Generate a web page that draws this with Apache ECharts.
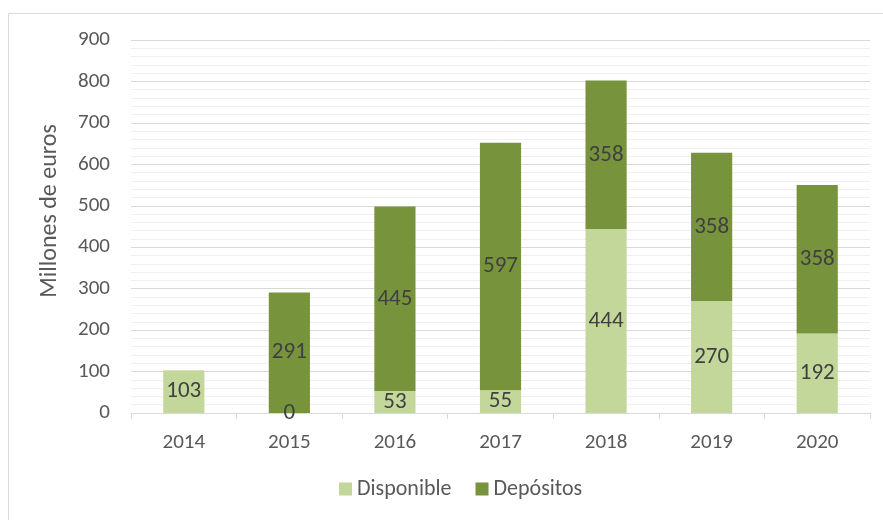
<!DOCTYPE html>
<html>
<head>
<meta charset="utf-8">
<script src="https://cdn.jsdelivr.net/npm/echarts@6/dist/echarts.min.js"></script>
<style>
  html, body { margin: 0; padding: 0; background: #fff; }
  #main { width: 883px; height: 520px; }
</style>
</head>
<body>
<div id="main"></div>
<script>
// datos del gráfico
const years = ['2014', '2015', '2016', '2017', '2018', '2019', '2020'];
const disponible = [103, 0, 53, 55, 444, 270, 192];
const depositos = [null, 291, 445, 597, 358, 358, 358];
const yTitle = 'Millones de euros';

const FONT = 'Carlito, "Liberation Sans", sans-serif';
const TXT = '#595959';

const chart = echarts.init(document.getElementById('main'));
chart.setOption({
  animation: false,
  textStyle: { fontFamily: FONT },
  graphic: [
    {
      type: 'rect',
      shape: { x: 8.5, y: 13.5, width: 890, height: 520 },
      style: { fill: 'none', stroke: '#D9D9D9', lineWidth: 1 },
      silent: true
    },
    {
      // título del eje Y
      type: 'text',
      x: 50,
      y: 211,
      rotation: Math.PI / 2,
      style: {
        text: yTitle,
        fill: TXT,
        fontSize: 24,
        fontFamily: FONT,
        align: 'center',
        verticalAlign: 'middle'
      },
      silent: true
    }
  ],
  grid: { left: 131, right: 13, top: 40, bottom: 107 },
  legend: {
    bottom: 15,
    left: 334,
    itemWidth: 13,
    itemHeight: 13,
    itemGap: 24,
    icon: 'rect',
    textStyle: { color: TXT, fontSize: 22, fontFamily: FONT },
    data: ['Disponible', 'Depósitos']
  },
  xAxis: {
    type: 'category',
    data: years,
    axisLine: { lineStyle: { color: '#D9D9D9', width: 1 } },
    axisTick: { show: true, length: 6, lineStyle: { color: '#D9D9D9' } },
    axisLabel: { color: TXT, fontSize: 21, margin: 19, fontFamily: FONT }
  },
  yAxis: {
    type: 'value',
    min: 0,
    max: 900,
    interval: 100,
    axisLine: { show: false },
    axisTick: { show: false },
    axisLabel: { color: TXT, fontSize: 21, margin: 21, fontFamily: FONT },
    splitLine: { lineStyle: { color: '#D9D9D9', width: 1 } },
    minorTick: { show: false, splitNumber: 5 },
    minorSplitLine: { show: true, lineStyle: { color: '#F0F0F0', width: 1 } }
  },
  series: [
    {
      name: 'Disponible',
      type: 'bar',
      stack: 'total',
      barWidth: '39%',
      data: disponible,
      itemStyle: { color: '#C4D79B' },
      label: { show: true, position: 'inside', color: '#404040', fontSize: 23, fontFamily: FONT }
    },
    {
      name: 'Depósitos',
      type: 'bar',
      stack: 'total',
      barWidth: '39%',
      data: depositos,
      itemStyle: { color: '#77933C' },
      label: { show: true, position: 'inside', color: '#404040', fontSize: 23, fontFamily: FONT }
    }
  ]
});
</script>
</body>
</html>
